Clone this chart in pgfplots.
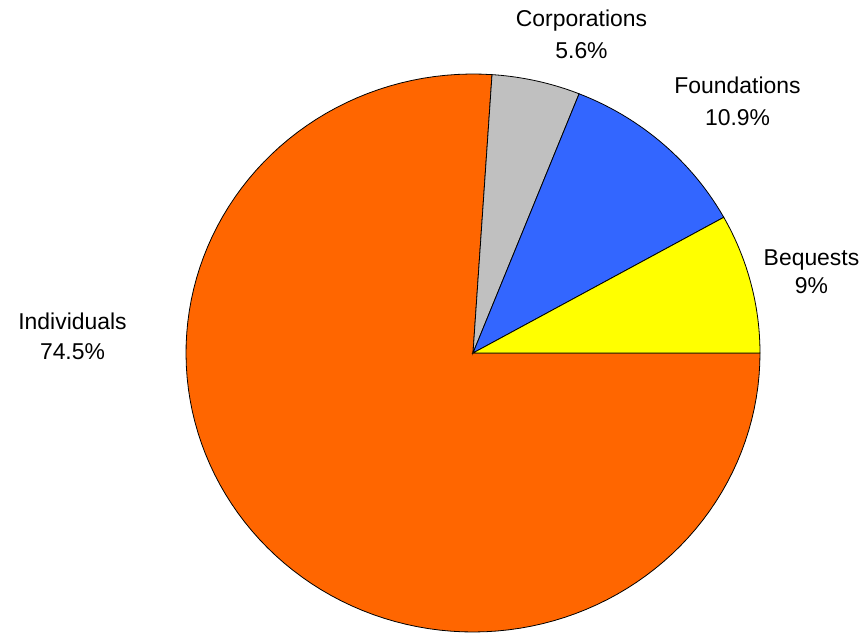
\documentclass[border=0pt]{standalone}
\usepackage{pgfplots}
\pgfplotsset{compat=1.18}
\usepackage{fontspec}
\setmainfont{Liberation Sans}
\definecolor{cOrange}{HTML}{FF6600}
\definecolor{cGray}{HTML}{C0C0C0}
\definecolor{cBlue}{HTML}{3366FF}
\definecolor{cYellow}{HTML}{FFFF00}
\tikzset{lbl/.style={font=\fontsize{23}{28}\selectfont, anchor=base, inner sep=0pt}}
\begin{document}
\begin{tikzpicture}
\begin{axis}[hide axis, scale only axis, width=866bp, height=633bp,
  xmin=0, xmax=866, ymin=0, ymax=633, y dir=reverse, clip=false]
\path (axis cs:0,0) rectangle (axis cs:866,633);
% slices: start/end angle (degrees, counter-clockwise from 3 o'clock)
\addplot[fill=cOrange, draw=black, line width=0.8bp, domain=86.2:360, samples=120, variable=\t]
  ({473+287*cos(t)},{353-279*sin(t)}) -- (axis cs:473,353) -- cycle;
\addplot[fill=cGray, draw=black, line width=0.8bp, domain=68.3:86.2, samples=20, variable=\t]
  ({473+287*cos(t)},{353-279*sin(t)}) -- (axis cs:473,353) -- cycle;
\addplot[fill=cBlue, draw=black, line width=0.8bp, domain=29.1:68.3, samples=30, variable=\t]
  ({473+287*cos(t)},{353-279*sin(t)}) -- (axis cs:473,353) -- cycle;
\addplot[fill=cYellow, draw=black, line width=0.8bp, domain=0:29.1, samples=25, variable=\t]
  ({473+287*cos(t)},{353-279*sin(t)}) -- (axis cs:473,353) -- cycle;
% labels
\node[lbl] at (axis cs:581.5,27) {Corporations};
\node[lbl] at (axis cs:581.5,59) {5.6\%};
\node[lbl] at (axis cs:737.5,93) {Foundations};
\node[lbl] at (axis cs:737.5,125) {10.9\%};
\node[lbl] at (axis cs:811.5,265) {Bequests};
\node[lbl] at (axis cs:811.5,293) {9\%};
\node[lbl] at (axis cs:72.5,329) {Individuals};
\node[lbl] at (axis cs:72.5,359) {74.5\%};
\end{axis}
\end{tikzpicture}
\end{document}
